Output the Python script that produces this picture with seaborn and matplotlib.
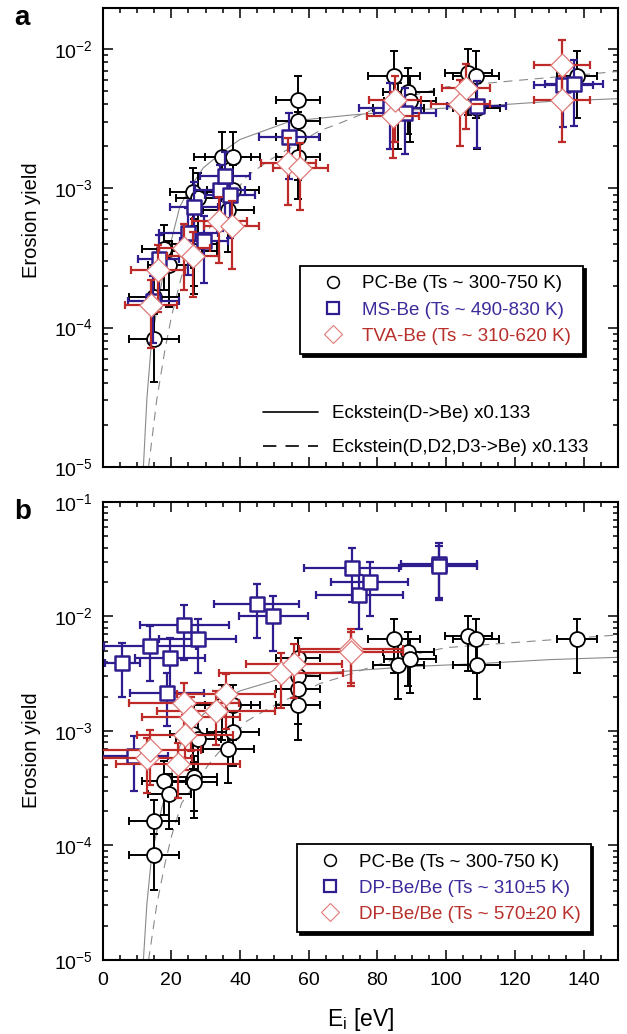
import numpy as np
import matplotlib
matplotlib.use('Agg')
import matplotlib.pyplot as plt
from matplotlib.ticker import LogLocator, MultipleLocator, NullFormatter
from matplotlib.lines import Line2D
import seaborn as sns

sns.set_style('ticks')
plt.rcParams['font.family'] = ['Liberation Sans', 'DejaVu Sans']
plt.rcParams['mathtext.fontset'] = 'custom'
plt.rcParams['mathtext.rm'] = 'Liberation Sans'
plt.rcParams['mathtext.it'] = 'Liberation Sans:italic'
plt.rcParams['mathtext.default'] = 'regular'
for k in ['text.color', 'axes.labelcolor', 'xtick.color', 'ytick.color', 'axes.edgecolor']:
    plt.rcParams[k] = 'black'

# ---------------- data ----------------
# Eckstein model curves (x0.133)
eck_E = [11.9, 12.9, 14.3, 17.2, 20.1, 22.5, 25.7, 29.3, 35.2, 40.0, 54.6, 72.0, 90.0, 111.0, 130.0, 150.0]
eck_Y = [1.0e-5, 3.06e-5, 8.2e-5, 2.1e-4, 4.3e-4, 7.4e-4, 1.03e-3, 1.4e-3, 1.85e-3, 2.24e-3,
         3.03e-3, 3.35e-3, 3.65e-3, 3.9e-3, 4.2e-3, 4.4e-3]
eck3_E = [13.4, 15.8, 18.2, 20.1, 23.0, 30.8, 33.2, 42.0, 48.7, 63.3, 68.1, 86.6, 100.1, 122.4, 150.0]
eck3_Y = [1.0e-5, 3.06e-5, 7.0e-5, 1.21e-4, 2.34e-4, 5.05e-4, 6.2e-4, 1.22e-3, 1.6e-3, 2.6e-3,
          2.87e-3, 4.4e-3, 5.35e-3, 6.0e-3, 6.9e-3]

# PC-Be (Ts ~ 300-750 K), same set in both panels
pc_E = [15.0, 15.0, 17.9, 19.4, 26.7, 26.7, 26.2, 27.9, 36.6, 37.9, 34.9, 37.9,
        57.0, 57.0, 57.0, 57.0, 84.9, 86.1, 89.0, 89.5, 106.4, 108.7, 108.9, 138.0]
pc_Y = [8.3e-5, 1.65e-4, 3.65e-4, 2.8e-4, 4.0e-4, 3.55e-4, 9.4e-4, 8.5e-4, 7.0e-4, 9.8e-4, 1.69e-3, 1.68e-3,
        4.3e-3, 3.05e-3, 2.35e-3, 1.68e-3, 6.4e-3, 3.8e-3, 4.9e-3, 4.25e-3, 6.7e-3, 6.4e-3, 3.8e-3, 6.4e-3]
pc_xerr = [7.4, 7.4, 6.3, 6.3, 6.5, 6.5, 6.6, 6.6, 7.5, 7.5, 8.3, 8.0,
           6.4, 6.4, 6.4, 6.4, 7.5, 7.5, 7.5, 7.5, 6.8, 6.8, 6.8, 5.8]
pc_yerr = [4.2e-5, 8.3e-5, 1.8e-4, 1.4e-4, 2.0e-4, 1.8e-4, 4.7e-4, 4.3e-4, 3.5e-4, 4.9e-4, 8.5e-4, 8.4e-4,
           2.15e-3, 1.5e-3, 1.2e-3, 8.4e-4, 3.2e-3, 1.9e-3, 2.45e-3, 2.1e-3, 3.35e-3, 3.2e-3, 1.9e-3, 3.2e-3]

# MS-Be (Ts ~ 490-830 K), panel a
ms_E = [14.8, 16.4, 25.0, 29.6, 26.5, 34.2, 35.6, 37.0, 54.3, 83.6, 88.0, 108.9, 134.1, 137.2]
ms_Y = [1.55e-4, 3.1e-4, 4.8e-4, 4.2e-4, 7.4e-4, 9.8e-4, 1.22e-3, 8.9e-4, 2.32e-3, 3.8e-3, 3.5e-3, 3.9e-3, 5.5e-3, 5.6e-3]
ms_xerr = [7.5, 6.0, 8.7, 7.0, 7.0, 7.3, 7.3, 7.3, 8.7, 9.0, 9.1, 8.6, 8.5, 8.5]
ms_yerr = [7.8e-5, 1.55e-4, 2.4e-4, 2.1e-4, 3.7e-4, 4.9e-4, 6.1e-4, 4.5e-4, 1.16e-3, 1.9e-3, 1.75e-3, 1.95e-3, 2.75e-3, 2.8e-3]

# TVA-Be (Ts ~ 310-620 K), panel a
tva_E = [14.1, 16.1, 23.8, 26.4, 34.0, 37.6, 54.1, 57.5, 84.5, 85.1, 104.1, 105.8, 133.8, 133.8]
tva_Y = [1.45e-4, 2.6e-4, 3.7e-4, 3.25e-4, 5.8e-4, 5.35e-4, 1.52e-3, 1.4e-3, 3.3e-3, 4.3e-3, 4.0e-3, 5.25e-3, 4.3e-3, 7.7e-3]
tva_xerr = [7.5, 7.8, 7.5, 7.5, 8.0, 8.0, 8.0, 8.0, 7.5, 7.5, 8.6, 7.0, 8.2, 8.2]
tva_yerr = [7.3e-5, 1.3e-4, 1.85e-4, 1.6e-4, 2.9e-4, 2.7e-4, 7.6e-4, 7.0e-4, 1.65e-3, 2.15e-3, 2.0e-3, 2.6e-3, 2.15e-3, 3.85e-3]

# DP-Be/Be (Ts ~ 310+-5 K), panel b
dp1_E = [5.8, 9.3, 13.8, 18.7, 19.6, 23.8, 27.7, 44.9, 49.7, 72.5, 74.7, 77.8, 97.9, 97.9]
dp1_Y = [3.95e-3, 6.0e-4, 5.5e-3, 2.15e-3, 4.3e-3, 8.4e-3, 6.4e-3, 1.29e-2, 1.0e-2, 2.65e-2, 1.54e-2, 2.0e-2, 2.9e-2, 2.75e-2]
dp1_xerr = [5.0, 9.7, 13.5, 10.7, 10.2, 13.0, 11.2, 12.4, 10.0, 13.9, 12.6, 11.2, 11.0, 11.0]
dp1_yerr = [1.95e-3, 3.0e-4, 2.75e-3, 1.05e-3, 2.15e-3, 4.2e-3, 3.2e-3, 6.4e-3, 5.0e-3, 1.3e-2, 7.7e-3, 1.0e-2, 1.45e-2, 1.35e-2]

# DP-Be/Be (Ts ~ 570+-20 K), panel b
dp2_E = [12.9, 13.8, 21.9, 24.0, 23.8, 25.7, 33.0, 35.9, 51.9, 55.8, 72.3, 72.3]
dp2_Y = [5.8e-4, 6.8e-4, 5.2e-4, 9.2e-4, 1.77e-3, 1.33e-3, 1.5e-3, 2.09e-3, 3.2e-3, 3.85e-3, 5.2e-3, 4.9e-3]
dp2_xerr = [13.0, 14.8, 18.0, 14.0, 16.0, 14.2, 17.2, 14.3, 18.0, 14.0, 15.0, 15.0]
dp2_yerr = [2.9e-4, 3.4e-4, 2.6e-4, 4.6e-4, 8.8e-4, 6.6e-4, 7.5e-4, 1.05e-3, 1.6e-3, 1.9e-3, 2.6e-3, 2.45e-3]

# ---------------- styles ----------------
BLUE = '#2e1d8e'
RED = '#bd2a27'
RED_MK = '#e07a78'
BLUE_TXT = '#3b2b9b'
RED_TXT = '#b8302b'
LEG_FS = 13.5


def draw_set(ax, E, Y, xe, ye, ecol, marker, mec, mew, s, z, elw=1.6):
    ax.errorbar(E, Y, xerr=xe, yerr=ye, fmt='none', ecolor=ecol, elinewidth=elw,
                capsize=3, capthick=elw, zorder=z)
    sns.scatterplot(x=E, y=Y, ax=ax, marker=marker, s=s, color='white',
                    edgecolor=mec, linewidth=mew, zorder=z + 0.5, legend=False)


def style_axes(ax, ymin, ymax, label_y):
    ax.set_yscale('log')
    ax.set_xlim(0, 150)
    ax.set_ylim(ymin, ymax)
    ax.xaxis.set_major_locator(MultipleLocator(20))
    ax.xaxis.set_minor_locator(MultipleLocator(5))
    ax.yaxis.set_major_locator(LogLocator(base=10, numticks=10))
    ax.yaxis.set_minor_locator(LogLocator(base=10, subs=np.arange(2, 10), numticks=20))
    ax.yaxis.set_minor_formatter(NullFormatter())
    ax.tick_params(which='both', direction='in', top=True, right=True, width=1.1,
                   labelsize=14)
    ax.tick_params(axis='x', pad=9)
    ax.tick_params(axis='y', pad=7)
    ax.tick_params(which='major', length=7)
    ax.tick_params(which='minor', length=3.5)
    for sp in ax.spines.values():
        sp.set_linewidth(1.5)
    ax.set_ylabel('Erosion yield', fontsize=14.5)
    ax.yaxis.set_label_coords(-0.12, label_y)


def model_curves(ax):
    sns.lineplot(x=eck_E, y=eck_Y, ax=ax, color='#8a8a8a', lw=0.8, zorder=1)
    sns.lineplot(x=eck3_E, y=eck3_Y, ax=ax, color='#8a8a8a', lw=0.8, zorder=1,
                 linestyle=(0, (8, 6)))


def marker_legend(ax, labels, bbox):
    handles = [Line2D([], [], ls='none', marker='o', mfc='white', mec='black', mew=1.1, ms=8.5),
               Line2D([], [], ls='none', marker='s', mfc='white', mec=BLUE, mew=1.6, ms=8.5),
               Line2D([], [], ls='none', marker='D', mfc='white', mec=RED_MK, mew=0.8, ms=9.5)]
    leg = ax.legend(handles, labels, loc='upper left', bbox_to_anchor=bbox, mode='expand',
                    borderaxespad=0, fontsize=LEG_FS, frameon=True, fancybox=False, framealpha=1,
                    edgecolor='black', shadow={'color': 'black', 'alpha': 1},
                    handlelength=2.5, handletextpad=0.3, borderpad=0.5, labelspacing=0.48,
                    labelcolor=['black', BLUE_TXT, RED_TXT])
    leg.get_frame().set_linewidth(1.3)
    leg.set_zorder(10)
    return leg


fig = plt.figure(figsize=(6.27, 10.34), dpi=100)
ax_a = fig.add_axes([0.1635, 0.5484, 0.8221, 0.4439])
ax_b = fig.add_axes([0.1635, 0.0716, 0.8221, 0.4429])

# ---------------- panel a ----------------
model_curves(ax_a)
draw_set(ax_a, pc_E, pc_Y, pc_xerr, pc_yerr, 'black', 'o', 'black', 1.3, 115, 3, elw=1.4)
draw_set(ax_a, ms_E, ms_Y, ms_xerr, ms_yerr, BLUE, 's', BLUE, 1.8, 105, 4)
draw_set(ax_a, tva_E, tva_Y, tva_xerr, tva_yerr, RED, 'D', RED_MK, 0.9, 140, 5)
style_axes(ax_a, 1e-5, 1.97e-2, 0.538)
ax_a.tick_params(labelbottom=False)

leg = marker_legend(ax_a, ['PC-Be (Ts ~ 300-750 K)', 'MS-Be (Ts ~ 490-830 K)', 'TVA-Be (Ts ~ 310-620 K)'],
                    (0.383, 0.242, 0.549, 0.196))
ax_a.add_artist(leg)

h_l = [Line2D([], [], color='black', lw=1.2),
       Line2D([], [], color='black', lw=1.2, ls=(0, (8, 5.5)))]
ax_a.legend(h_l, ['Eckstein(D->Be) x0.133', 'Eckstein(D,D2,D3->Be) x0.133'],
            loc='lower left', bbox_to_anchor=(0.297, 0.007), borderaxespad=0, frameon=False,
            fontsize=LEG_FS, handlelength=2.93, handletextpad=0.75, labelspacing=0.9)

# ---------------- panel b ----------------
model_curves(ax_b)
draw_set(ax_b, pc_E, pc_Y, pc_xerr, pc_yerr, 'black', 'o', 'black', 1.3, 115, 3, elw=1.4)
draw_set(ax_b, dp1_E, dp1_Y, dp1_xerr, dp1_yerr, BLUE, 's', BLUE, 1.8, 105, 4)
draw_set(ax_b, dp2_E, dp2_Y, dp2_xerr, dp2_yerr, RED, 'D', RED_MK, 0.9, 140, 5)
style_axes(ax_b, 1e-5, 1e-1, 0.459)
ax_b.set_xlabel('E$_{i}$ [eV]', fontsize=16.5, labelpad=12)

marker_legend(ax_b, ['PC-Be (Ts ~ 300-750 K)', 'DP-Be/Be (Ts ~ 310±5 K)', 'DP-Be/Be (Ts ~ 570±20 K)'],
              (0.377, 0.055, 0.570, 0.198))

fig.text(0.022, 0.983, 'a', fontsize=20, fontweight='bold', va='center', ha='left')
fig.text(0.022, 0.505, 'b', fontsize=20, fontweight='bold', va='center', ha='left')

fig.savefig('out.png', dpi=100)
